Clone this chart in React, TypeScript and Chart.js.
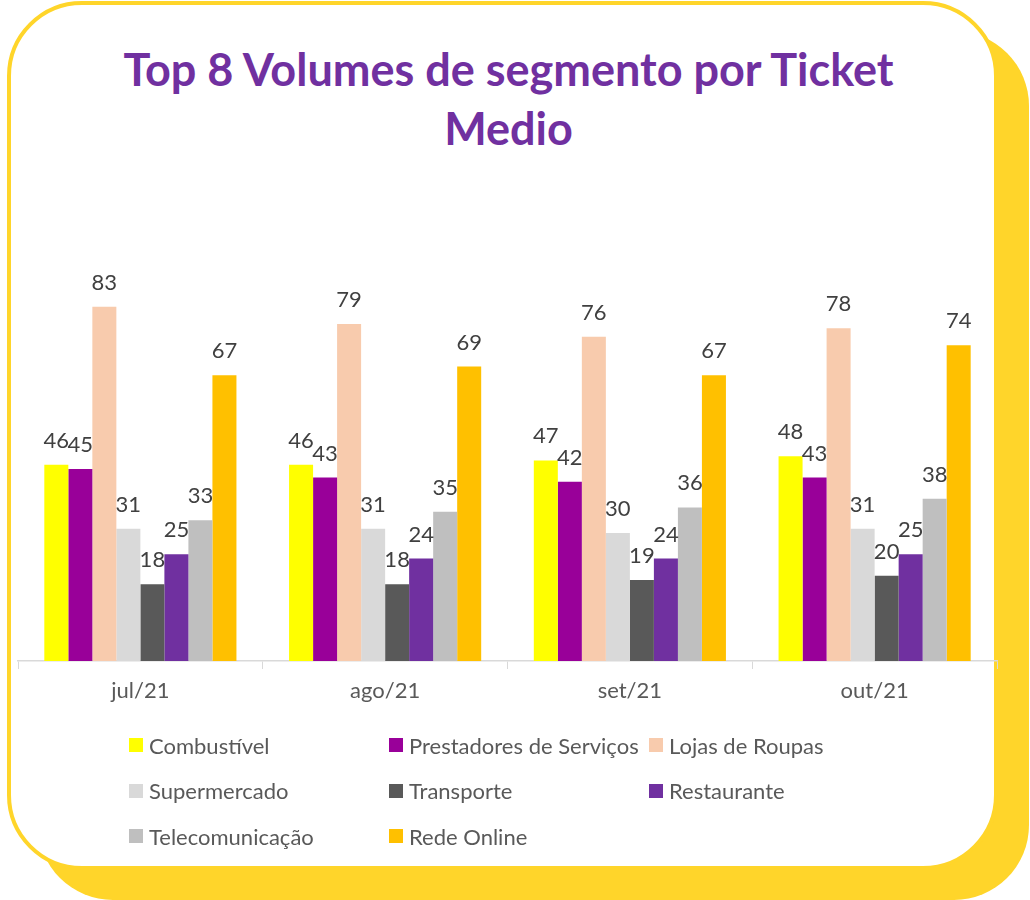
import React, { useEffect, useRef } from "react";
import { Chart, registerables } from "chart.js";

Chart.register(...registerables);

const chartTitle = ["Top 8 Volumes de segmento por Ticket", "Medio"];
const categories = ["jul/21", "ago/21", "set/21", "out/21"];
const seriesNames = [
  "Combustível",
  "Prestadores de Serviços",
  "Lojas de Roupas",
  "Supermercado",
  "Transporte",
  "Restaurante",
  "Telecomunicação",
  "Rede Online",
];
const combustivel = [46, 46, 47, 48];
const prestadores = [45, 43, 42, 43];
const lojasRoupas = [83, 79, 76, 78];
const supermercado = [31, 31, 30, 31];
const transporte = [18, 18, 19, 20];
const restaurante = [25, 24, 24, 25];
const telecomunicacao = [33, 35, 36, 38];
const redeOnline = [67, 69, 67, 74];
const seriesValues = [
  combustivel,
  prestadores,
  lojasRoupas,
  supermercado,
  transporte,
  restaurante,
  telecomunicacao,
  redeOnline,
];
const seriesColors = [
  "#FFFF00",
  "#990099",
  "#F8CBAD",
  "#D9D9D9",
  "#595959",
  "#7030A0",
  "#BFBFBF",
  "#FFC000",
];

const FONT = "Lato, 'Open Sans', sans-serif";
const CARD_YELLOW = "#FFD52A";

const valueLabels = {
  id: "valueLabels",
  afterDatasetsDraw(chart: any) {
    const ctx = chart.ctx;
    ctx.save();
    ctx.font = `22px ${FONT}`;
    ctx.fillStyle = "#404040";
    ctx.textAlign = "center";
    ctx.textBaseline = "alphabetic";
    chart.data.datasets.forEach((ds: any, i: number) => {
      const meta = chart.getDatasetMeta(i);
      meta.data.forEach((bar: any, j: number) => {
        ctx.fillText(String(ds.data[j]), bar.x, bar.y - 17);
      });
    });
    ctx.restore();
  },
};

export default function App() {
  const canvasRef = useRef<HTMLCanvasElement | null>(null);

  useEffect(() => {
    if (!canvasRef.current) return;
    const chart = new Chart(canvasRef.current, {
      type: "bar",
      data: {
        labels: categories,
        datasets: seriesNames.map((name, i) => ({
          label: name,
          data: seriesValues[i],
          backgroundColor: seriesColors[i],
          borderWidth: 0,
          categoryPercentage: 0.785,
          barPercentage: 1,
        })),
      },
      options: {
        responsive: false,
        animation: false,
        layout: { padding: { left: 18, right: 33, top: 277, bottom: 189 } },
        plugins: {
          legend: { display: false },
          title: { display: false },
          tooltip: { enabled: false },
        },
        scales: {
          x: {
            afterFit: (s: any) => {
              s.height = 50;
            },
            grid: {
              display: true,
              drawOnChartArea: false,
              drawTicks: true,
              tickLength: 8,
              color: "#D9D9D9",
              offset: true,
            },
            border: { color: "#D9D9D9", width: 1.5 },
            ticks: {
              color: "#595959",
              font: { family: FONT, size: 22 },
              padding: 9,
            },
          },
          y: {
            display: false,
            min: 0,
            max: 90,
          },
        },
      },
      plugins: [valueLabels],
    });
    return () => chart.destroy();
  }, []);

  return (
    <div
      style={{
        position: "fixed",
        left: 0,
        top: 0,
        width: 1030,
        height: 900,
        background: "#FFFFFF",
        overflow: "hidden",
        fontFamily: FONT,
      }}
    >
      <div
        style={{
          position: "absolute",
          left: 38,
          top: 31,
          width: 991,
          height: 869,
          borderRadius: 75,
          background: CARD_YELLOW,
        }}
      />
      <div
        style={{
          position: "absolute",
          left: 7,
          top: 1,
          width: 991,
          height: 869,
          boxSizing: "border-box",
          borderRadius: 75,
          border: `4px solid ${CARD_YELLOW}`,
          background: "#FFFFFF",
        }}
      />
      <div
        style={{
          position: "absolute",
          left: 0,
          top: 40,
          width: 1017,
          textAlign: "center",
          color: "#7030A0",
          fontWeight: 700,
          fontSize: 45,
          lineHeight: "59px",
        }}
      >
        {chartTitle.map((t) => (
          <div key={t}>{t}</div>
        ))}
      </div>
      <canvas
        ref={canvasRef}
        width={1030}
        height={900}
        style={{ position: "absolute", left: 0, top: 0 }}
      />
      {seriesNames.map((name, i) => (
        <div
          key={name}
          style={{
            position: "absolute",
            left: 129 + (i % 3) * 260,
            top: 745 + Math.floor(i / 3) * 45.5 - 14,
            height: 28,
            display: "flex",
            alignItems: "center",
            whiteSpace: "nowrap",
            color: "#595959",
            fontSize: 22,
          }}
        >
          <span
            style={{
              display: "inline-block",
              width: 14,
              height: 14,
              background: seriesColors[i],
              marginRight: 6,
            }}
          />
          {name}
        </div>
      ))}
    </div>
  );
}
